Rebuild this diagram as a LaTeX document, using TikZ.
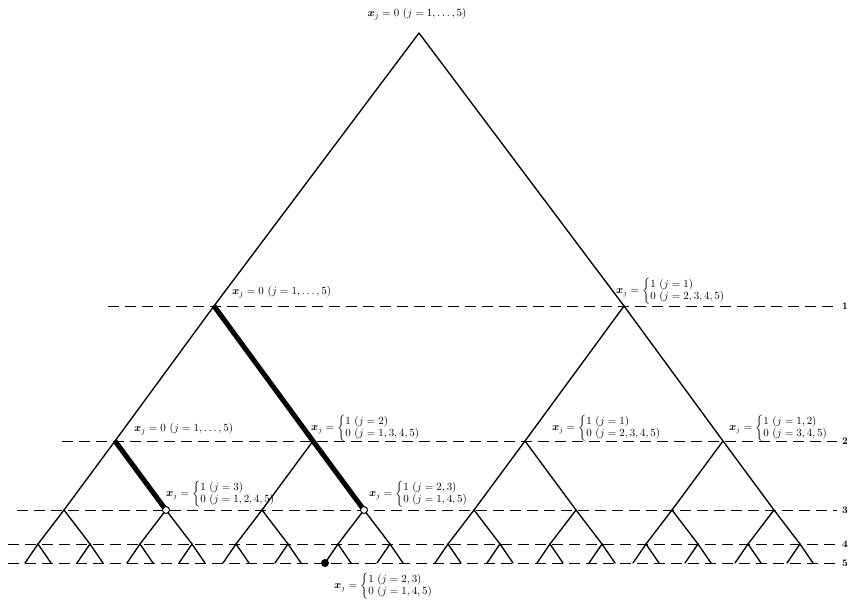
\documentclass[tikz,border=0pt]{standalone}
\usepackage{amsmath}
\usetikzlibrary{calc}
\newcommand\brlab[2]{$\boldsymbol{x}_j = \left\{\begin{array}{@{}l@{}}#1\\#2\end{array}\right.$}
\newcommand\onelab{$\boldsymbol{x}_j = 0\ (j = 1, \ldots, 5)$}
\begin{document}
\begin{tikzpicture}[x=1pt,y=-1pt,
  edge/.style={line width=1.35pt, line cap=round},
  boldedge/.style={line width=5pt},
  levelline/.style={dash pattern=on 11pt off 6pt, line width=1pt},
  lab/.style={font=\fontsize{10.5}{11.5}\selectfont, inner sep=0pt, anchor=west},
  lab1/.style={font=\fontsize{11.2}{12}\selectfont, inner sep=0pt, anchor=west},
  lvl/.style={font=\fontsize{10}{11}\selectfont\bfseries, inner sep=0pt, anchor=west},
  hollow/.style={circle, draw, fill=white, line width=1pt, inner sep=0pt, minimum size=7pt},
  soliddot/.style={circle, fill=black, inner sep=0pt, minimum size=8pt}]
\useasboundingbox (0,0) rectangle (851,603);
% level lines
\foreach \k/\y/\xs in {1/306/108, 2/441/62, 3/510/17, 4/544/8, 5/563/8}{
  \node[lvl] (L\k) at (842,\y) {\k};
  \coordinate (s\k) at (\xs,\y);
  \draw[levelline] (s\k) -- ([xshift=-5pt]L\k.west);
}
% tree
\coordinate (n0-0) at (419,33);
\foreach \k/\d/\y [remember=\k as \pk (initially 0), remember=\y as \py (initially 33)] in {1/205/306, 2/99/441, 3/51/510, 4/26/544, 5/13/563}{
  \pgfmathtruncatemacro{\N}{2^\k-1}
  \foreach \i in {0,...,\N}{
    \pgfmathtruncatemacro{\p}{floor(\i/2)}
    \pgfmathtruncatemacro{\s}{2*mod(\i,2)-1}
    \coordinate (n\k-\i) at ($(n\pk-\p)+(\s*\d,\y-\py)$);
    \draw[edge] (n\pk-\p) -- (n\k-\i);
  }
}
% bold path segments
\draw[boldedge] (n1-0) -- (n2-1);
\draw[boldedge] (n2-0) -- (n3-1);
\draw[boldedge] (n2-1) -- (n3-3);
\node[hollow] (h1) at (n3-1) {};
\node[hollow] (h2) at (n3-3) {};
\node[soliddot] (d1) at (n5-12) {};
% labels
\node[lab1, anchor=center] (t0) at (417,14) {\onelab};
\node[lab1] (t1) at (232,292) {\onelab};
\node[lab] (t2) at (616,291) {\brlab{1\ (j=1)}{0\ (j=2,3,4,5)}};
\node[lab1] (t3) at (134,429) {\onelab};
\node[lab] (t4) at (311,428) {\brlab{1\ (j=2)}{0\ (j=1,3,4,5)}};
\node[lab] (t5) at (552,428) {\brlab{1\ (j=1)}{0\ (j=2,3,4,5)}};
\node[lab] (t6) at (729,428) {\brlab{1\ (j=1,2)}{0\ (j=3,4,5)}};
\node[lab] (t7) at (166,494) {\brlab{1\ (j=3)}{0\ (j=1,2,4,5)}};
\node[lab] (t8) at (369,494) {\brlab{1\ (j=2,3)}{0\ (j=1,4,5)}};
\node[lab] (t9) at (334,586) {\brlab{1\ (j=2,3)}{0\ (j=1,4,5)}};
\end{tikzpicture}
\end{document}
